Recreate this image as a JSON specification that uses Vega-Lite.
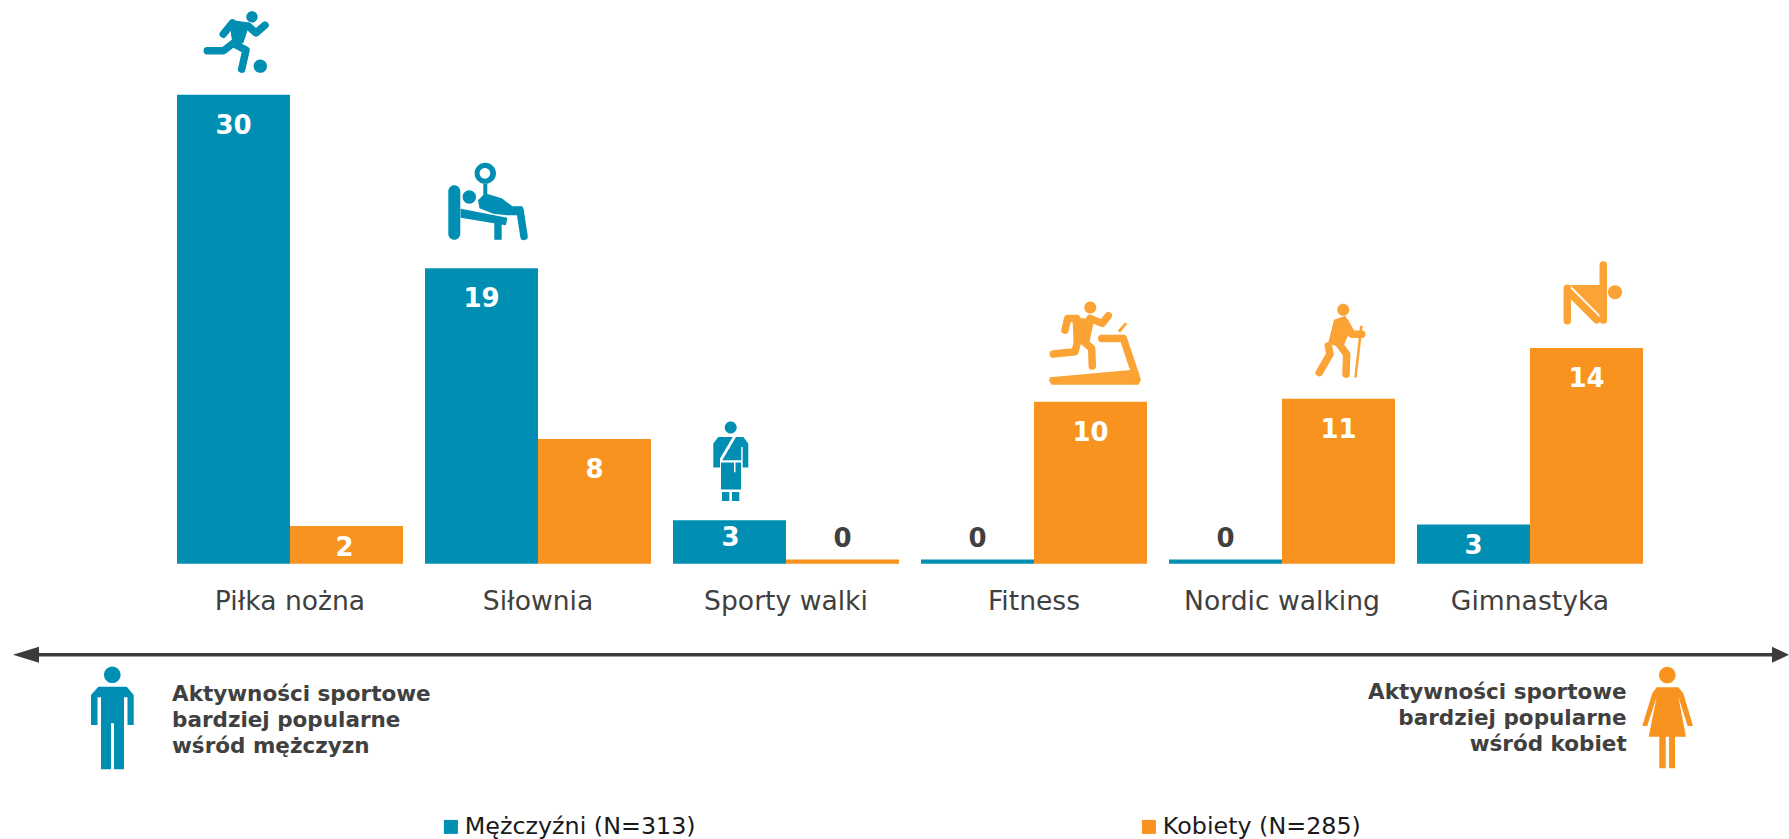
{
"$schema":"https://vega.github.io/schema/vega-lite/v6.json",
"width":1789,"height":839,"padding":0,"autosize":"none","background":"white",
"config":{"view":{"stroke":null},"font":"DejaVu Sans"},
"data":{"values":[
{"aktywnosc":"Piłka nożna","plec":"Mężczyźni","wartosc":30},
{"aktywnosc":"Piłka nożna","plec":"Kobiety","wartosc":2.41},
{"aktywnosc":"Siłownia","plec":"Mężczyźni","wartosc":18.9},
{"aktywnosc":"Siłownia","plec":"Kobiety","wartosc":7.98},
{"aktywnosc":"Sporty walki","plec":"Mężczyźni","wartosc":2.78},
{"aktywnosc":"Sporty walki","plec":"Kobiety","wartosc":0.28},
{"aktywnosc":"Fitness","plec":"Mężczyźni","wartosc":0.28},
{"aktywnosc":"Fitness","plec":"Kobiety","wartosc":10.37},
{"aktywnosc":"Nordic walking","plec":"Mężczyźni","wartosc":0.28},
{"aktywnosc":"Nordic walking","plec":"Kobiety","wartosc":10.55},
{"aktywnosc":"Gimnastyka","plec":"Mężczyźni","wartosc":2.52},
{"aktywnosc":"Gimnastyka","plec":"Kobiety","wartosc":13.8}
]},
"encoding":{
"x":{"field":"aktywnosc","type":"nominal","sort":null,"title":null,
 "scale":{"domain":["Piłka nożna","Siłownia","Sporty walki","Fitness","Nordic walking","Gimnastyka"],"range":[177,1643],"paddingInner":0.0887,"paddingOuter":0},
 "axis":{"orient":"bottom","offset":-275.3,"domain":false,"ticks":false,"labelAngle":0,"labelFontSize":26.6,"labelColor":"#404040","labelPadding":25,"labelFont":"DejaVu Sans","labelLimit":400,"grid":false}},
"xOffset":{"field":"plec","type":"nominal","scale":{"domain":["Mężczyźni","Kobiety"],"paddingInner":0,"paddingOuter":0}},
"y":{"field":"wartosc","type":"quantitative","axis":null,"scale":{"domain":[-17.61,36.07],"nice":false,"zero":false}}
},
"resolve":{"scale":{"shape":"independent"}},
"layer":[
{"mark":{"type":"bar"},
 "encoding":{"y2":{"datum":0},
 "color":{"field":"plec","type":"nominal","scale":{"domain":["Mężczyźni","Kobiety"],"range":["#008FB3","#F7931E"]},
 "legend":{"orient":"none","legendX":439,"legendY":815,"direction":"horizontal","columns":2,"title":null,"symbolType":"square","symbolSize":196,"labelFontSize":23.8,"labelColor":"#1a1a1a","labelFont":"DejaVu Sans","columnPadding":441,"labelOffset":2,"labelLimit":400,"gridAlign":"none","labelExpr":"datum.label=='Kobiety'?'Kobiety (N=285)':'Mężczyźni (N=313)'"}}}},
{"transform":[{"filter":"datum.wartosc>=5"}],
 "mark":{"type":"text","fontWeight":"bold","fontSize":26,"color":"white","dy":31,"baseline":"middle"},
 "encoding":{"text":{"field":"wartosc","format":".0f"}}},
{"transform":[{"filter":"datum.wartosc>=2.6 && datum.wartosc<5"}],
 "mark":{"type":"text","fontWeight":"bold","fontSize":26,"color":"white","dy":18,"dx":1,"baseline":"middle"},
 "encoding":{"text":{"field":"wartosc","format":".0f"}}},
{"transform":[{"filter":"datum.wartosc>=2.5 && datum.wartosc<2.6"}],
 "mark":{"type":"text","fontWeight":"bold","fontSize":26,"color":"white","dy":22,"baseline":"middle"},
 "encoding":{"text":{"field":"wartosc","format":".0f"}}},
{"transform":[{"filter":"datum.wartosc>=1 && datum.wartosc<2.5"}],
 "mark":{"type":"text","fontWeight":"bold","fontSize":26,"color":"white","dy":22,"dx":-2,"baseline":"middle"},
 "encoding":{"text":{"field":"wartosc","format":".0f"}}},
{"transform":[{"filter":"datum.wartosc<1"}],
 "mark":{"type":"text","fontWeight":"bold","fontSize":26,"color":"#404040","dy":-20,"baseline":"middle"},
 "encoding":{"text":{"field":"wartosc","format":".0f"}}},
{"transform":[{"filter":"indexof(['Piłka nożna','Siłownia','Sporty walki'],datum.aktywnosc)>=0 ? datum.plec=='Mężczyźni' : datum.plec=='Kobiety'"}],
 "mark":{"type":"point","filled":true,"size":4,"opacity":1},
 "encoding":{
 "color":{"condition":{"test":"datum.plec=='Kobiety'","value":"#FBA334"},"value":"#008FB3"},
 "shape":{"field":"aktywnosc","type":"nominal","legend":null,"scale":{"domain":["Piłka nożna","Siłownia","Sporty walki","Fitness","Nordic walking","Gimnastyka"],"range":[
"M12.8,-78a5.7,5.7 0 1 0 11.4,0a5.7,5.7 0 1 0 -11.4,0Z M20.1,-28.7a6.7,6.7 0 1 0 13.4,0a6.7,6.7 0 1 0 -13.4,0Z M-3.5,-75L16.5,-72L10,-52L0,-47L-2.5,-60Z",
"M-33.2,-77a6,6 0 0 1 12,0L-21.2,-34.7a6,6 0 0 1 -12,0Z M-18.9,-71.3a6.7,6.7 0 1 0 13.4,0a6.7,6.7 0 1 0 -13.4,0Z M-20.8,-59.5L25.8,-50.5L24.5,-43L-20.8,-50.5Z M12.8,-46.3H20.2V-28.7H12.8Z M-6.9,-95a10.7,10.7 0 1 0 21.4,0a10.7,10.7 0 1 0 -21.4,0Z M-1.9,-95a5.3,5.3 0 1 1 10.6,0a5.3,5.3 0 1 1 -10.6,0Z M1.8,-84.7H5.8V-71.3H1.8Z M-3.5,-68L3.5,-75L20.2,-70L31,-62L41,-62L40,-53L25.2,-53L11.8,-54.5L-2,-60Z",
"M-4.8,-92.7a6,6 0 1 0 12,0a6,6 0 1 0 -12,0Z M-16.2,-52.7L-16.2,-76.7L-11.2,-83.3L3.2,-83.3L-9.5,-61.7L-9.5,-52.7Z M-7.2,-60L6.5,-83.3L13.8,-83.3L18.8,-76.7L18.8,-52.7L13.2,-52.7L13.2,-73.3L11.8,-73.3L11.8,-60Z M-8.5,-57.7L4.5,-57.7L4.5,-48L6,-48L6,-57.7L11.5,-57.7L11.5,-30.7L-8.5,-30.7Z M-7.5,-28.3H-0.2V-19.3H-7.5Z M2.5,-28.3H9.8V-19.3H2.5Z",
"M-6.2,-94.3a6,6 0 1 0 12,0a6,6 0 1 0 -12,0Z M-18,-84L4,-83L-1,-60L-17,-60Z M-40.5,-24.5L43,-32L50.5,-21.6L47.8,-17L-38.8,-17L-41.5,-20.9Z M27.2,-70.9L34.5,-79.3L36.8,-77.9L29.8,-69.3Z",
"M-1.2,-89a6,6 0 1 0 12,0a6,6 0 1 0 -12,0Z M-4.5,-79L7,-83L12.5,-69.7L4,-51L-10.5,-55Z M21.5,-73L24.2,-73L18.2,-21.3L15.8,-21.3Z",
"M21.5,-55.7a7,7 0 1 0 14,0a7,7 0 1 0 -14,0Z M-16.5,-63L13.5,-63L13.5,-32.7Z"
 ]}}}},
{"transform":[{"filter":"indexof(['Piłka nożna','Siłownia','Fitness','Nordic walking','Gimnastyka'],datum.aktywnosc)>=0 && (indexof(['Piłka nożna','Siłownia'],datum.aktywnosc)>=0 ? datum.plec=='Mężczyźni' : datum.plec=='Kobiety')"}],
 "mark":{"type":"point","filled":false,"size":4,"opacity":1,"strokeWidth":7.5,"strokeCap":"round","strokeJoin":"round"},
 "encoding":{
 "color":{"condition":{"test":"datum.plec=='Kobiety'","value":"#FBA334"},"value":"#008FB3"},
 "shape":{"field":"aktywnosc","type":"nominal","legend":null,"scale":{"domain":["Piłka nożna","Siłownia","Fitness","Nordic walking","Gimnastyka"],"range":[
"M-1,-72L-10.2,-60.7 M14.8,-68.7L22.5,-62L31.5,-69.7 M1.5,-53L-10.2,-44L-26.2,-44 M-0.2,-51.4L12.5,-44.7L8.2,-25.7",
"M38.5,-58L42.5,-32",
"M-13.8,-83.3L-22.8,-83.3L-25.5,-71.6 M-0.5,-83.3L11.8,-78.3L17.8,-85.9 M-12.2,-63.3L-15.5,-49.9L-37.2,-47.6 M-10.5,-63.3L1.2,-53.3L1.8,-35.6 M32.8,-63.3L46.2,-23.3 M11.2,-63.3L32.8,-63.3",
"M6.5,-77L13.2,-64.7L23.2,-64.7 M-10.2,-53L-8.5,-44.7L-19.2,-26.3 M0.8,-54.7L8.2,-44.7L7.5,-24.7",
"M16.8,-83L16.8,-28 M-19.2,-59.7L-19.2,-27.3 M-18.2,-56.7L10.2,-28.3"
 ]}}}},
{"data":{"values":[{"aktywnosc":"Piłka nożna","plec":"Mężczyźni","rysunek":"mężczyzna","wartosc":0},{"aktywnosc":"Gimnastyka","plec":"Kobiety","rysunek":"kobieta","wartosc":0}]},
 "mark":{"type":"point","filled":true,"size":4,"opacity":1},
 "encoding":{
 "color":{"condition":{"test":"datum.plec=='Kobiety'","value":"#F7931E"},"value":"#008FB3"},
 "shape":{"field":"rysunek","type":"nominal","legend":null,"scale":{"domain":["mężczyzna","kobieta"],"range":[
"M-129.5,111a8.3,8.3 0 1 0 16.6,0a8.3,8.3 0 1 0 -16.6,0Z M-142.5,161.3L-142.5,131.3L-135.2,123L-106.8,123L-99.8,131.3L-99.8,161.3L-106,161.3L-106,133.6L-109.5,133.6L-109.5,205.6L-119.5,205.6L-119.5,159.6L-122.5,159.6L-122.5,205.6L-132.5,205.6L-132.5,133.6L-136,133.6L-136,161.3Z",
"M72.5,111.3a8.3,8.3 0 1 0 16.6,0a8.3,8.3 0 1 0 -16.6,0Z M55.8,162.3L65.8,129.6L70.2,123.6L91.8,123.6L96.8,129.6L106.5,162.3L101.2,162.3L91.8,133L99.5,173L88.5,173L88.5,204.6L82.5,204.6L82.5,173L79.2,173L79.2,204.6L72.8,204.6L72.8,173L62.2,173L70.2,133L60.8,162.3Z"
 ]}}}},
{"data":{"values":[{"aktywnosc":"Piłka nożna","plec":"Mężczyźni","wartosc":0}]},
 "mark":{"type":"point","filled":true,"size":4,"opacity":1,"color":"#3B3B3B","shape":"M-220.5,91L-194.5,83L-194.5,89.3L1538.5,89.3L1538.5,83L1555.5,91L1538.5,99L1538.5,92.7L-194.5,92.7L-194.5,99Z"}},
{"data":{"values":[{"aktywnosc":"Piłka nożna","plec":"Mężczyźni","wartosc":0,"tekst":"Aktywności sportowe\nbardziej popularne\nwśród mężczyzn"}]},
 "mark":{"type":"text","align":"left","baseline":"alphabetic","fontSize":21.5,"fontWeight":"bold","color":"#404040","lineBreak":"\n","lineHeight":26,"dx":-61.5,"dy":137.5},
 "encoding":{"text":{"field":"tekst"}}},
{"data":{"values":[{"aktywnosc":"Gimnastyka","plec":"Kobiety","wartosc":0,"tekst":"Aktywności sportowe\nbardziej popularne\nwśród kobiet"}]},
 "mark":{"type":"text","align":"right","baseline":"alphabetic","fontSize":21.5,"fontWeight":"bold","color":"#404040","lineBreak":"\n","lineHeight":26,"dx":40.2,"dy":135},
 "encoding":{"text":{"field":"tekst"}}}
]
}
